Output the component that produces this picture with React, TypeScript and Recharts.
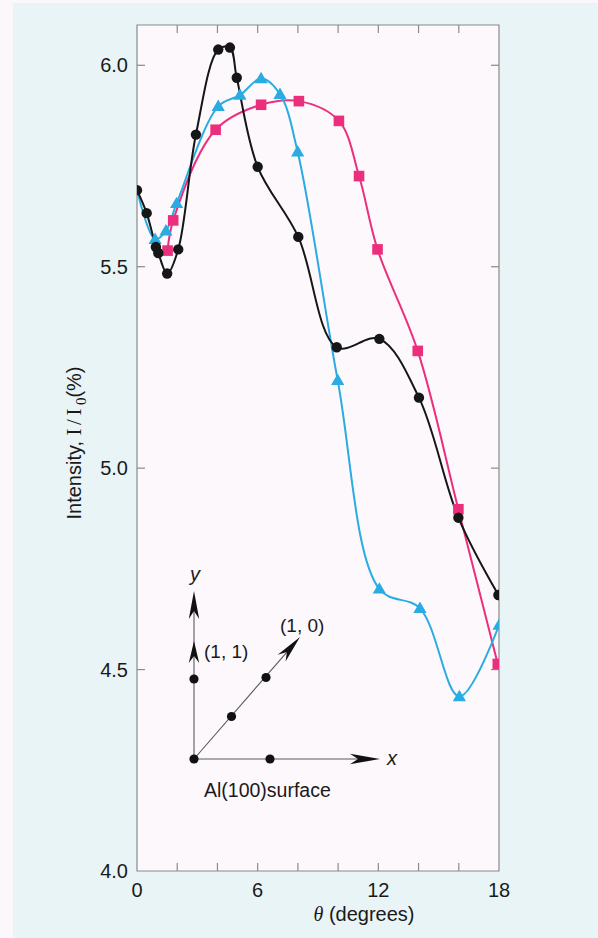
import React from 'react';
import { LineChart, Line, XAxis, YAxis, ReferenceArea, ReferenceLine } from 'recharts';

// ---- data ----
const blackTheta = [0, 0.48, 0.94, 1.06, 1.5, 2.05, 2.93, 4.04, 4.62, 4.96, 6.0, 8.02, 9.93, 12.05, 14.02, 15.98, 17.97];
const blackIntensity = [5.69, 5.633, 5.549, 5.534, 5.483, 5.543, 5.828, 6.039, 6.044, 5.969, 5.748, 5.574, 5.3, 5.321, 5.175, 4.877, 4.685];

const cyanTheta = [0, 0.9, 1.44, 1.97, 4.04, 5.12, 6.17, 7.11, 7.99, 9.98, 12.05, 14.07, 16.03, 18.0];
const cyanIntensity = [5.69, 5.568, 5.589, 5.657, 5.898, 5.926, 5.967, 5.928, 5.785, 5.218, 4.7, 4.652, 4.433, 4.61];

const pinkTheta = [1.52, 1.8, 3.91, 6.17, 8.05, 10.04, 11.04, 11.96, 13.96, 15.98, 17.94];
const pinkIntensity = [5.54, 5.615, 5.84, 5.902, 5.911, 5.862, 5.725, 5.543, 5.291, 4.898, 4.514];

const xTickLabels = [0, 6, 12, 18];
const xTickMarks = [2, 4, 6, 8, 10, 12, 14, 16];
const yTickLabels = [4.0, 4.5, 5.0, 5.5, 6.0];
const yTickMarks = [4.5, 5.0, 5.5, 6.0];

const X_DOMAIN: [number, number] = [0, 18];
const Y_DOMAIN: [number, number] = [4.0, 6.1];

const toRows = (xs: number[], ys: number[]) => xs.map((t, i) => ({ t, v: ys[i] }));
const blackData = toRows(blackTheta, blackIntensity);
const cyanData = toRows(cyanTheta, cyanIntensity);
const pinkData = toRows(pinkTheta, pinkIntensity);

// ---- colours / sizes ----
const BLACK = '#161616';
const CYAN = '#28ace2';
const PINK = '#ec2f7c';
const FRAME = '#8a8a8a';
const SANS = '"Liberation Sans", Arial, Helvetica, sans-serif';
const SERIF = '"Liberation Serif", "Times New Roman", serif';

const W = 598;
const H = 938;
const MARGIN = { top: 25, right: 99, bottom: 0, left: 0 };
const Y_AXIS_W = 137;
const X_AXIS_H = 67;
const plotW = W - MARGIN.right - MARGIN.left - Y_AXIS_W;
const plotH = H - MARGIN.top - X_AXIS_H;
const tickLenX = (8 / plotW) * (X_DOMAIN[1] - X_DOMAIN[0]);
const tickLenY = (8 / plotH) * (Y_DOMAIN[1] - Y_DOMAIN[0]);

// ---- centripetal Catmull-Rom curve (same algorithm as d3.curveCatmullRom) ----
class CatmullRomCurve {
  _context: any; _alpha: number; _line: any; _point = 0;
  _x0 = NaN; _x1 = NaN; _x2 = NaN; _y0 = NaN; _y1 = NaN; _y2 = NaN;
  _l01_a = 0; _l12_a = 0; _l23_a = 0; _l01_2a = 0; _l12_2a = 0; _l23_2a = 0;
  constructor(context: any, alpha: number) { this._context = context; this._alpha = alpha; }
  areaStart() { this._line = 0; }
  areaEnd() { this._line = NaN; }
  lineStart() {
    this._x0 = this._x1 = this._x2 = this._y0 = this._y1 = this._y2 = NaN;
    this._l01_a = this._l12_a = this._l23_a = this._l01_2a = this._l12_2a = this._l23_2a = this._point = 0;
  }
  lineEnd() {
    switch (this._point) {
      case 2: this._context.lineTo(this._x2, this._y2); break;
      case 3: this.point(this._x2, this._y2); break;
    }
    if (this._line || (this._line !== 0 && this._point === 1)) this._context.closePath();
    this._line = 1 - this._line;
  }
  _bez(x: number, y: number) {
    let x1 = this._x1, y1 = this._y1, x2 = this._x2, y2 = this._y2;
    const eps = 1e-12;
    if (this._l01_a > eps) {
      const a = 2 * this._l01_2a + 3 * this._l01_a * this._l12_a + this._l12_2a;
      const n = 3 * this._l01_a * (this._l01_a + this._l12_a);
      x1 = (x1 * a - this._x0 * this._l12_2a + this._x2 * this._l01_2a) / n;
      y1 = (y1 * a - this._y0 * this._l12_2a + this._y2 * this._l01_2a) / n;
    }
    if (this._l23_a > eps) {
      const b = 2 * this._l23_2a + 3 * this._l23_a * this._l12_a + this._l12_2a;
      const m = 3 * this._l23_a * (this._l23_a + this._l12_a);
      x2 = (x2 * b + this._x1 * this._l23_2a - x * this._l12_2a) / m;
      y2 = (y2 * b + this._y1 * this._l23_2a - y * this._l12_2a) / m;
    }
    this._context.bezierCurveTo(x1, y1, x2, y2, this._x2, this._y2);
  }
  point(x: number, y: number) {
    x = +x; y = +y;
    if (this._point) {
      const x23 = this._x2 - x, y23 = this._y2 - y;
      this._l23_2a = Math.pow(x23 * x23 + y23 * y23, this._alpha);
      this._l23_a = Math.sqrt(this._l23_2a);
    }
    switch (this._point) {
      case 0: this._point = 1; this._line ? this._context.lineTo(x, y) : this._context.moveTo(x, y); break;
      case 1: this._point = 2; break;
      case 2: this._point = 3; this._bez(x, y); break;
      default: this._bez(x, y); break;
    }
    this._l01_a = this._l12_a; this._l12_a = this._l23_a;
    this._l01_2a = this._l12_2a; this._l12_2a = this._l23_2a;
    this._x0 = this._x1; this._x1 = this._x2; this._x2 = x;
    this._y0 = this._y1; this._y1 = this._y2; this._y2 = y;
  }
}
const smoothCurve: any = (context: any) => new CatmullRomCurve(context, 0.5);

// ---- markers ----
const CircleDot = (p: any) => (
  <circle key={`c-${p.index}`} cx={p.cx} cy={p.cy} r={5.2} fill={BLACK} />
);
const TriangleDot = (p: any) => {
  if (p.index === 0 || p.cx == null) return <g key={`t-${p.index}`} />;
  const { cx, cy } = p;
  return (
    <polygon
      key={`t-${p.index}`}
      points={`${cx},${cy - 6.8} ${cx - 6.6},${cy + 4.6} ${cx + 6.6},${cy + 4.6}`}
      fill={CYAN}
    />
  );
};
const SquareDot = (p: any) => (
  <rect key={`s-${p.index}`} x={p.cx - 5.3} y={p.cy - 5.3} width={10.6} height={10.6} fill={PINK} />
);

// ---- axis titles ----
const YTitle = (props: any) => {
  const vb = props.viewBox || { x: 0, y: 25, width: 137, height: 846 };
  const x = vb.x + 81;
  const y = vb.y + vb.height / 2 - 5;
  return (
    <text x={x} y={y} transform={`rotate(-90 ${x} ${y})`} textAnchor="middle" fontSize={20} fontFamily={SANS} fill="#1a1a1a">
      <tspan>Intensity, </tspan>
      <tspan fontFamily={SERIF} fontSize={21} letterSpacing={3.5}>I/I</tspan>
      <tspan fontFamily={SERIF} fontSize={15} dy={5}>0</tspan>
      <tspan dy={-5}>(%)</tspan>
    </text>
  );
};
const XTitle = (props: any) => {
  const vb = props.viewBox || { x: 137, y: 871, width: 362, height: 67 };
  const x = vb.x + vb.width / 2 + 46;
  const y = vb.y + 50;
  return (
    <text x={x} y={y} textAnchor="middle" fontSize={20} fontFamily={SANS} fill="#1a1a1a">
      <tspan fontFamily={SERIF} fontStyle="italic">θ</tspan>
      <tspan> (degrees)</tspan>
    </text>
  );
};

// ---- inset schematic ----
const arrowHead = (tx: number, ty: number, dx: number, dy: number, len: number, half: number, notch: number) => {
  const bx = tx - dx * len, by = ty - dy * len;
  const nx = -dy, ny = dx;
  const kx = tx - dx * (len - notch), ky = ty - dy * (len - notch);
  return `${tx},${ty} ${bx + nx * half},${by + ny * half} ${kx},${ky} ${bx - nx * half},${by - ny * half}`;
};

const Inset = () => {
  const ox = 194, oy = 759;
  const diagTip = { x: 300, y: 637 };
  const dl = Math.hypot(diagTip.x - ox, diagTip.y - oy);
  const ddx = (diagTip.x - ox) / dl, ddy = (diagTip.y - oy) / dl;
  const lineCol = '#5a5a5a';
  return (
    <svg width={W} height={H} style={{ position: 'absolute', left: 0, top: 0, pointerEvents: 'none' }}>
      <line x1={ox} y1={oy} x2={ox} y2={600} stroke={lineCol} strokeWidth={1.1} />
      <line x1={ox} y1={oy} x2={372} y2={oy} stroke={lineCol} strokeWidth={1.1} />
      <line x1={ox} y1={oy} x2={diagTip.x - ddx * 8} y2={diagTip.y - ddy * 8} stroke={lineCol} strokeWidth={1.1} />
      <polygon points={arrowHead(ox, 591, 0, -1, 28, 5.2, 8)} fill="#111" />
      <polygon points={arrowHead(ox, 641, 0, -1, 22, 5.2, 7)} fill="#111" />
      <polygon points={arrowHead(380, oy, 1, 0, 30, 5.2, 8)} fill="#111" />
      <polygon points={arrowHead(diagTip.x, diagTip.y, ddx, ddy, 28, 5.2, 8)} fill="#111" />
      <circle cx={ox} cy={oy} r={4.6} fill="#111" />
      <circle cx={270} cy={oy} r={4.6} fill="#111" />
      <circle cx={ox} cy={679} r={4.6} fill="#111" />
      <circle cx={231.5} cy={716.5} r={4.6} fill="#111" />
      <circle cx={266} cy={677.5} r={4.6} fill="#111" />
      <text x={195} y={581} textAnchor="middle" fontSize={20} fontStyle="italic" fontFamily={SANS} fill="#1a1a1a">y</text>
      <text x={392} y={765} textAnchor="middle" fontSize={20} fontStyle="italic" fontFamily={SANS} fill="#1a1a1a">x</text>
      <text x={204} y={658} fontSize={19} fontFamily={SANS} fill="#1a1a1a">(1, 1)</text>
      <text x={280} y={632} fontSize={19} fontFamily={SANS} fill="#1a1a1a">(1, 0)</text>
      <text x={204} y={797} fontSize={19.5} fontFamily={SANS} fill="#1a1a1a">Al(100)surface</text>
    </svg>
  );
};

export default function App() {
  return (
    <div style={{ position: 'absolute', left: 0, top: 0, width: W, height: H, background: '#fbf7fa', overflow: 'hidden' }}>
      <div style={{ position: 'absolute', left: 13, top: 3, width: W - 13, height: H - 3, background: '#e9f4f7' }} />
      <div style={{ position: 'absolute', left: 0, top: 0 }}>
        <LineChart width={W} height={H} margin={MARGIN}>
          <XAxis
            type="number"
            dataKey="t"
            domain={X_DOMAIN}
            ticks={xTickLabels}
            allowDataOverflow
            height={X_AXIS_H}
            axisLine={false}
            tickLine={false}
            tickSize={0}
            tickMargin={12}
            tick={{ fill: '#1a1a1a', fontSize: 20, fontFamily: SANS }}
            label={<XTitle />}
          />
          <YAxis
            type="number"
            domain={Y_DOMAIN}
            ticks={yTickLabels}
            allowDataOverflow
            width={Y_AXIS_W}
            axisLine={false}
            tickLine={false}
            tickSize={0}
            tickMargin={9}
            tickFormatter={(v: number) => v.toFixed(1)}
            tick={{ fill: '#1a1a1a', fontSize: 20, fontFamily: SANS }}
            label={<YTitle />}
          />
          <ReferenceArea x1={X_DOMAIN[0]} x2={X_DOMAIN[1]} y1={Y_DOMAIN[0]} y2={Y_DOMAIN[1]} fill="#fdf8fc" fillOpacity={1} stroke={FRAME} strokeWidth={1.2} />
          {xTickMarks.map((t) => (
            <ReferenceLine key={`xb-${t}`} segment={[{ x: t, y: Y_DOMAIN[0] }, { x: t, y: Y_DOMAIN[0] + tickLenY }]} stroke={FRAME} strokeWidth={1.2} />
          ))}
          {xTickMarks.map((t) => (
            <ReferenceLine key={`xt-${t}`} segment={[{ x: t, y: Y_DOMAIN[1] - tickLenY }, { x: t, y: Y_DOMAIN[1] }]} stroke={FRAME} strokeWidth={1.2} />
          ))}
          {yTickMarks.map((v) => (
            <ReferenceLine key={`yl-${v}`} segment={[{ x: X_DOMAIN[0], y: v }, { x: X_DOMAIN[0] + tickLenX, y: v }]} stroke={FRAME} strokeWidth={1.2} />
          ))}
          {yTickMarks.map((v) => (
            <ReferenceLine key={`yr-${v}`} segment={[{ x: X_DOMAIN[1] - tickLenX, y: v }, { x: X_DOMAIN[1], y: v }]} stroke={FRAME} strokeWidth={1.2} />
          ))}
          <Line data={pinkData} dataKey="v" type={smoothCurve} stroke={PINK} strokeWidth={2} dot={SquareDot} activeDot={false} isAnimationActive={false} />
          <Line data={cyanData} dataKey="v" type={smoothCurve} stroke={CYAN} strokeWidth={2} dot={TriangleDot} activeDot={false} isAnimationActive={false} />
          <Line data={blackData} dataKey="v" type={smoothCurve} stroke={BLACK} strokeWidth={2} dot={CircleDot} activeDot={false} isAnimationActive={false} />
        </LineChart>
      </div>
      <Inset />
    </div>
  );
}
